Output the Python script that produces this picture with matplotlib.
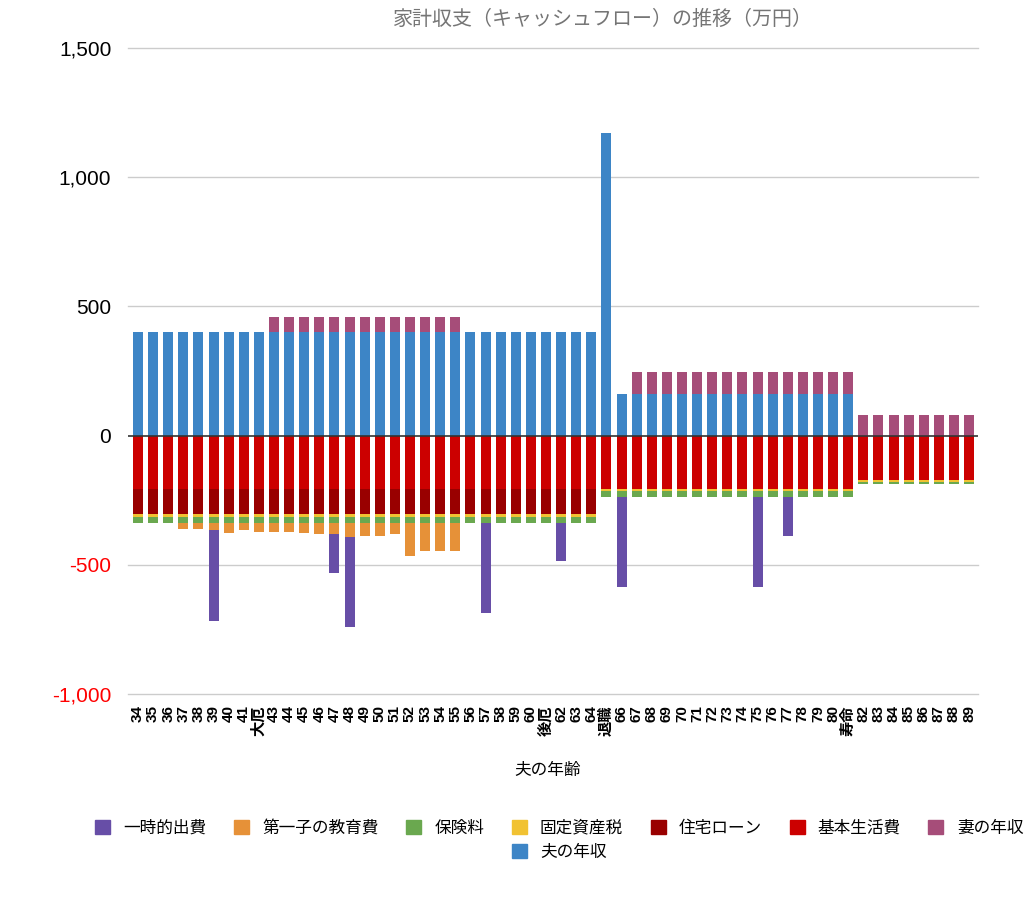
import matplotlib.pyplot as plt
from matplotlib.patches import Patch
import numpy as np

# 夫の年齢ラベル
ages = [str(a) for a in range(34, 90)]
ages[42 - 34] = '大厄'
ages[61 - 34] = '後厄'
ages[65 - 34] = '退職'
ages[81 - 34] = '寿命'

# 収入
husband = [400] * 31 + [1170] + [160] * 16 + [0] * 8
wife = [0] * 9 + [60] * 13 + [0] * 11 + [85] * 15 + [80] * 8

# 支出 (マイナス)
living = [-205] * 48 + [-170] * 8
loan = [-100] * 31 + [0] * 25
tax = [-10] * 48 + [-9] * 8
insurance = [-22] * 48 + [-10] * 8
education = [0, 0, 0, -25, -25, -30, -40, -30, -35, -35, -35, -40, -45, -45,
             -55, -50, -50, -45, -130, -110, -110, -110] + [0] * 34
onetime = [0] * 56
for a, v in [(39, -350), (47, -150), (48, -350), (57, -350), (62, -150),
             (66, -350), (75, -350), (77, -150)]:
    onetime[a - 34] = v

c_one = '#674ea7'
c_edu = '#e69138'
c_ins = '#6aa84f'
c_tax = '#f1c232'
c_loan = '#990000'
c_live = '#cc0000'
c_wife = '#a64d79'
c_hus = '#3d85c6'

fig = plt.figure(figsize=(10.24, 8.99), dpi=100)
ax = fig.add_axes([128 / 1024, 1 - 694 / 899, 850 / 1024, 646 / 899])

x = np.arange(len(ages))
w = 0.66
ax.bar(x, husband, w, color=c_hus, zorder=3)
ax.bar(x, wife, w, bottom=husband, color=c_wife, zorder=3)

neg = np.zeros(len(ages))
for vals, col in [(living, c_live), (loan, c_loan), (tax, c_tax),
                  (insurance, c_ins), (education, c_edu), (onetime, c_one)]:
    vals = np.array(vals, dtype=float)
    ax.bar(x, vals, w, bottom=neg, color=col, zorder=3)
    neg = neg + vals

ax.set_ylim(-1000, 1500)
ax.set_xlim(-0.66, 55.59)
yt = [-1000, -500, 0, 500, 1000, 1500]
for v in yt:
    if v == 0:
        ax.axhline(0, color='#333333', lw=1.2, zorder=4)
    else:
        ax.axhline(v, color='#cccccc', lw=1, zorder=0, clip_on=False)
ax.set_yticks(yt)
ax.set_yticklabels(['-1,000', '-500', '0', '500', '1,000', '1,500'],
                   fontsize=15, family=['Liberation Sans', 'DejaVu Sans'])
for lab in ax.get_yticklabels():
    if lab.get_text().startswith('-'):
        lab.set_color('#ff0000')
ax.set_xticks(x)
ax.set_xticklabels(ages, rotation=90, fontsize=11, fontweight='bold',
                   family=['Liberation Sans', 'Noto Sans CJK JP'])
ax.tick_params(length=0)
ax.tick_params(axis='x', pad=8)
ax.tick_params(axis='y', pad=12)
for s in ax.spines.values():
    s.set_visible(False)

fig.text(603 / 1024, 1 - 19 / 899, '家計収支（キャッシュフロー）の推移（万円）',
         ha='center', va='center', fontsize=14.4, color='#757575',
         family=['Noto Sans CJK JP'])
fig.text(548 / 1024, 1 - 770 / 899, '夫の年齢', ha='center', va='center',
         fontsize=12, family=['Noto Sans CJK JP'])

names1 = ['一時的出費', '第一子の教育費', '保険料', '固定資産税', '住宅ローン', '基本生活費', '妻の年収']
cols1 = [c_one, c_edu, c_ins, c_tax, c_loan, c_live, c_wife]
h1 = [Patch(color=c) for c in cols1]
fig.legend(h1, names1, ncol=7, loc='center', bbox_to_anchor=(559 / 1024, 1 - 828 / 899),
           frameon=False, prop={'family': 'Noto Sans CJK JP', 'size': 12},
           handlelength=0.9, handleheight=0.9, handletextpad=0.8, columnspacing=1.65)
fig.legend([Patch(color=c_hus)], ['夫の年収'], loc='center',
           bbox_to_anchor=(559 / 1024, 1 - 852 / 899), frameon=False,
           prop={'family': 'Noto Sans CJK JP', 'size': 12},
           handlelength=0.9, handleheight=0.9, handletextpad=0.8)

fig.savefig('out.png', dpi=100)
